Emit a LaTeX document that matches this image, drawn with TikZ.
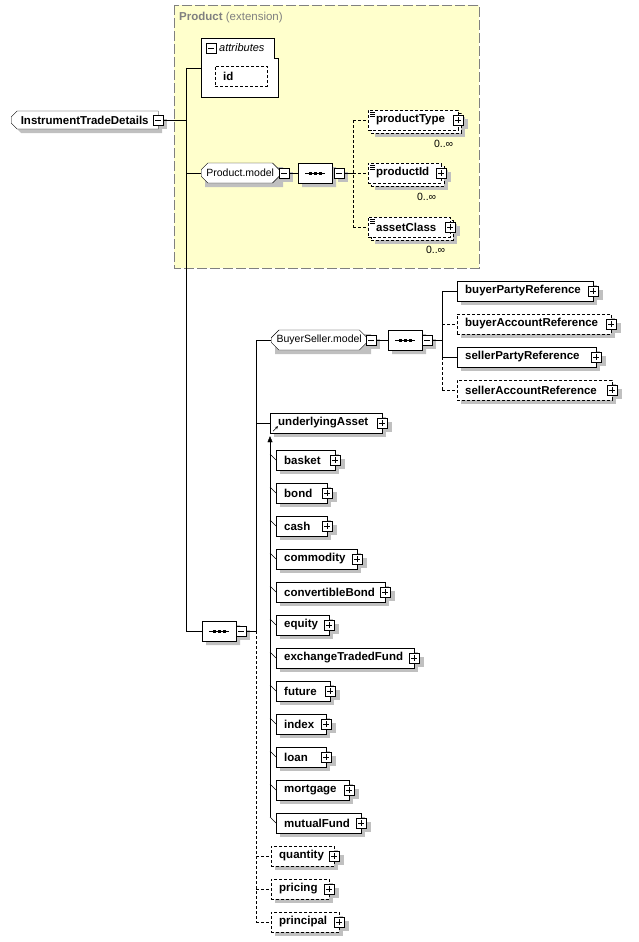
\documentclass[tikz,border=0pt]{standalone}
\usepackage{fontspec}
\usepackage{xcolor}
\usepackage{tikz}
\usetikzlibrary{shapes.misc,arrows.meta}
\newfontfamily\xsdfont{Liberation Sans}
\definecolor{shadowgray}{RGB}{192,192,192}
\definecolor{extfill}{RGB}{255,255,204}
\definecolor{extline}{RGB}{128,128,128}
\pgfdeclarelayer{bg}
\pgfdeclarelayer{shade}
\pgfsetlayers{bg,shade,main}

\tikzset{
  optline/.style={dash pattern=on 3pt off 2pt},
  elem/.style={draw,fill=white,rectangle,anchor=west,inner xsep=8pt,inner ysep=0pt,minimum height=20pt,text width=#1,align=left,font=\xsdfont\bfseries\fontsize{11.5}{13}\selectfont},
  optelem/.style={elem=#1,optline},
  grpbase/.style={chamfered rectangle,chamfered rectangle xsep=5pt,anchor=west,inner sep=0pt,minimum height=20pt,minimum width=#1,font=\xsdfont\fontsize{10.5}{12}\selectfont},
  grp/.style={grpbase=#1,draw,fill=white},
  seqbox/.style={grp=34pt,path picture={
      \draw (path picture bounding box.center) ++(-10,0) -- ++(20,0);
      \foreach \d in {-5,0,5} \fill[black] (path picture bounding box.center) ++(\d,0) ++(-1.5,-1.5) rectangle ++(3,3);}},
  rootbox/.style={grpbase=147pt,chamfered rectangle corners={north west,south west},chamfered rectangle xsep=3pt,font=\xsdfont\bfseries\fontsize{11.5}{13}\selectfont,minimum height=18pt},
  shadecopy/.style={draw=none,fill=shadowgray},
  tog/.style={draw,fill=white,rectangle,inner sep=0pt,minimum size=10pt},
  minusbox/.style={tog,path picture={\draw (path picture bounding box.center) ++(-3,0) -- ++(6,0);}},
  plusbox/.style={tog,path picture={\draw (path picture bounding box.center) ++(-3,0) -- ++(6,0) (path picture bounding box.center) ++(0,-3) -- ++(0,6);}},
  occ/.style={anchor=east,inner sep=0pt,font=\xsdfont\fontsize{10.5}{12}\selectfont},
  subline/.style={line width=0.6pt}
}

\begin{document}
\begin{tikzpicture}[x=1pt,y=1pt,yscale=-1,line width=0.9pt]
\useasboundingbox (0,0) rectangle (639,942);

%Shape: extension area
\begin{pgfonlayer}{bg}
\draw[extline,fill=extfill,dash pattern=on 10pt off 3pt] (174,5) rectangle (479,268);
\end{pgfonlayer}
% Text Node
\node[anchor=west,inner sep=0pt,text=extline,font=\xsdfont\fontsize{11.5}{13}\selectfont] (ext) at (179,18) {\textbf{Product} (extension)};

%Shape: attributes
\draw[fill=white] (201,38) -- (274,38) -- (274,58) -- (278,58) -- (278,97) -- (201,97) -- cycle;
\node[minusbox] (attr-m) at (211,48) {};
\node[anchor=west,inner sep=0pt,font=\xsdfont\itshape\fontsize{11}{12}\selectfont] (attr-t) at (219,48) {attributes};
\coordinate (attr) at (201,68);
\node[optelem=36pt] (id) at (215,76) {id};

%Root element
\node[rootbox,draw,fill=white] (itd) at (11,120) {InstrumentTradeDetails};
\node[minusbox] (itd-m) at (158,120) {};
\coordinate (j1) at (186,120);

%Product.model group
\node[grp=78pt] (pm) at (201,173) {Product.model};
\node[minusbox] (pm-m) at (284,173) {};
\node[seqbox] (s1) at (298,173) {};
\node[minusbox] (s1-m) at (339,173) {};
\coordinate (j-s1) at (353,173);

%productType / productId / assetClass
\node[optelem=74pt] (pt-b) at (371,123) {};
\node[optelem=74pt] (pt) at (368,120) {productType};
\node[plusbox] (pt-p) at (pt.east) {};
\node[occ] (pt-o) at ([shift={(-5,24)}]pt-p.center) {0..∞};
\node[optelem=57pt] (pi-b) at (371,176) {};
\node[optelem=57pt] (pi) at (368,173) {productId};
\node[plusbox] (pi-p) at (pi.east) {};
\node[occ] (pi-o) at ([shift={(-5,24)}]pi-p.center) {0..∞};
\node[optelem=66pt] (ac-b) at (371,230) {};
\node[optelem=66pt] (ac) at (368,227) {assetClass};
\node[plusbox] (ac-p) at (ac.east) {};
\node[occ] (ac-o) at ([shift={(-5,23)}]ac-p.center) {0..∞};
\foreach \n in {pt,pi,ac} \foreach \k in {2,4,6} \draw[line width=0.6pt] ([shift={(2,\k)}]\n.north west) -- ++(5,0);

%Main sequence
\node[seqbox] (ms) at (202,631) {};
\node[minusbox] (ms-m) at (241,631) {};
\coordinate (j3) at (256,631);

%BuyerSeller.model group
\node[grp=96pt] (bsm) at (271,340) {BuyerSeller.model};
\node[minusbox] (bsm-m) at (371,340) {};
\node[seqbox] (s2) at (388,340) {};
\node[minusbox] (s2-m) at (427,340) {};
\coordinate (j2) at (442,340);
\node[elem=120pt] (bpr) at (457,291) {buyerPartyReference};
\node[plusbox] (bpr-p) at (bpr.east) {};
\node[optelem=138pt] (bar) at (457,324) {buyerAccountReference};
\node[plusbox] (bar-p) at (bar.east) {};
\node[elem=123pt] (spr) at (457,357) {sellerPartyReference};
\node[plusbox] (spr-p) at (spr.east) {};
\node[optelem=139pt] (sar) at (457,390) {sellerAccountReference};
\node[plusbox] (sar-p) at (sar.east) {};

%underlyingAsset and its substitutes
\node[elem=96pt] (ua) at (270,423) {underlyingAsset};
\node[plusbox] (ua-p) at (ua.east) {};
\draw[-{Stealth[length=3pt,width=3pt]},line width=0.6pt] ([shift={(3,-2)}]ua.south west) -- ++(5,-5);
\node[elem=43pt] (bk) at (276,460) {basket};
\node[plusbox] (bk-p) at (bk.east) {};
\node[elem=35pt] (bd) at (276,493) {bond};
\node[plusbox] (bd-p) at (bd.east) {};
\node[elem=35pt] (cs) at (276,526) {cash};
\node[plusbox] (cs-p) at (cs.east) {};
\node[elem=65pt] (cm) at (276,559) {commodity};
\node[plusbox] (cm-p) at (cm.east) {};
\node[elem=93pt] (cb) at (276,592) {convertibleBond};
\node[plusbox] (cb-p) at (cb.east) {};
\node[elem=37pt] (eq) at (276,625) {equity};
\node[plusbox] (eq-p) at (eq.east) {};
\node[elem=122pt] (etf) at (276,658) {exchangeTradedFund};
\node[plusbox] (etf-p) at (etf.east) {};
\node[elem=38pt] (fu) at (276,691) {future};
\node[plusbox] (fu-p) at (fu.east) {};
\node[elem=34pt] (ix) at (276,724) {index};
\node[plusbox] (ix-p) at (ix.east) {};
\node[elem=34pt] (ln) at (276,757) {loan};
\node[plusbox] (ln-p) at (ln.east) {};
\node[elem=57pt] (mg) at (276,790) {mortgage};
\node[plusbox] (mg-p) at (mg.east) {};
\node[elem=69pt] (mf) at (276,823) {mutualFund};
\node[plusbox] (mf-p) at (mf.east) {};

%quantity / pricing / principal
\node[optelem=47pt] (qty) at (271,856) {quantity};
\node[plusbox] (qty-p) at (qty.east) {};
\node[optelem=42pt] (prc) at (271,889) {pricing};
\node[plusbox] (prc-p) at (prc.east) {};
\node[optelem=52pt] (prin) at (271,922) {principal};
\node[plusbox] (prin-p) at (prin.east) {};

%Connectors
\draw (itd-m.east) -- (j1);
\draw (j1 |- attr) -- (attr);
\draw (j1 |- attr) -- (j1 |- ms.west) -- (ms.west);
\draw (j1 |- pm.west) -- (pm.west);
\draw (pm-m.east) -- (s1.west);
\draw (s1-m.east) -- (j-s1);
\draw[optline] (j-s1 |- pt.west) -- (j-s1 |- ac.west);
\foreach \n in {pt,pi,ac} \draw[optline] (j-s1 |- \n.west) -- (\n.west);
\draw (ms-m.east) -- (j3);
\draw (j3 |- bsm.west) -- (j3);
\draw (j3 |- bsm.west) -- (bsm.west);
\draw (j3 |- ua.west) -- (ua.west);
\draw[optline] (j3) -- (j3 |- prin.west);
\foreach \n in {qty,prc,prin} \draw[optline] (j3 |- \n.west) -- (\n.west);
\draw (bsm-m.east) -- (s2.west);
\draw (s2-m.east) -- (j2);
\draw (j2 |- bpr.west) -- (j2 |- spr.west);
\draw[optline] (j2 |- spr.west) -- (j2 |- sar.west);
\draw (j2 |- bpr.west) -- (bpr.west);
\draw (j2 |- spr.west) -- (spr.west);
\draw[optline] (j2 |- bar.west) -- (bar.west);
\draw[optline] (j2 |- sar.west) -- (sar.west);
\draw[-{Triangle[length=6pt,width=5pt]}] ([shift={(-6,-6)}]mf.west) -- ([shift={(0,3)}]ua.south west);
\foreach \n in {bk,bd,cs,cm,cb,eq,etf,fu,ix,ln,mg,mf} \draw[subline] ([shift={(-6,-6)}]\n.west) -- (\n.west);

%Shadows
\begin{pgfonlayer}{shade}
\foreach \n in {id,pt-b,pi-b,ac-b,bpr,bar,spr,sar,ua,bk,bd,cs,cm,cb,eq,etf,fu,ix,ln,mg,mf,qty,prc,prin,
    itd-m,pm-m,s1-m,ms-m,bsm-m,s2-m,pt-p,pi-p,ac-p,bpr-p,bar-p,spr-p,sar-p,ua-p,bk-p,bd-p,cs-p,cm-p,cb-p,eq-p,etf-p,fu-p,ix-p,ln-p,mg-p,mf-p,qty-p,prc-p,prin-p}
  \fill[shadowgray] ([shift={(4,4)}]\n.north west) rectangle ([shift={(4,4)}]\n.south east);
\node[rootbox,shadecopy] (itd-sh) at ([shift={(4,4)}]itd.west) {\phantom{InstrumentTradeDetails}};
\node[grpbase=78pt,shadecopy] (pm-sh) at ([shift={(4,4)}]pm.west) {};
\node[grpbase=96pt,shadecopy] (bsm-sh) at ([shift={(4,4)}]bsm.west) {};
\node[grpbase=34pt,shadecopy] (s1-sh) at ([shift={(4,4)}]s1.west) {};
\node[grpbase=34pt,shadecopy] (s2-sh) at ([shift={(4,4)}]s2.west) {};
\node[grpbase=34pt,shadecopy] (ms-sh) at ([shift={(4,4)}]ms.west) {};
\end{pgfonlayer}
\end{tikzpicture}
\end{document}
